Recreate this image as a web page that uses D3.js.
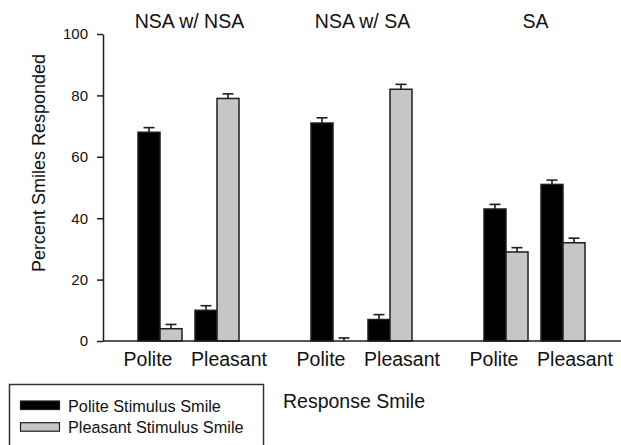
<!DOCTYPE html>
<html>
<head>
<meta charset="utf-8">
<script src="https://cdn.jsdelivr.net/npm/d3@7"></script>
<style>
  html, body { margin: 0; padding: 0; background: #ffffff; }
  svg { display: block; font-family: "Liberation Sans", Arial, sans-serif; }
</style>
</head>
<body>
<svg id="chart" width="621" height="445"></svg>
<script>
// Conditions, response types and stimulus series
const groups = ["NSA w/ NSA", "NSA w/ SA", "SA"];
const responses = ["Polite", "Pleasant"];
const series = ["Polite Stimulus Smile", "Pleasant Stimulus Smile"];

// Percent of smiles responded, ordered group by group: Polite, Pleasant response
const politeStimulus    = [68, 10, 71, 7, 43, 51];
const politeStimulusErr = [1.5, 1.5, 1.7, 1.6, 1.5, 1.4];
const pleasantStimulus    = [4, 79, 0, 82, 29, 32];
const pleasantStimulusErr = [1.4, 1.5, 1.0, 1.6, 1.4, 1.5];

const yTicks = [0, 20, 40, 60, 80, 100];

const svg = d3.select("#chart");
const ink = "#1e1e1e";

const y = d3.scaleLinear().domain([0, 100]).range([341, 34]);
const x0 = d3.scaleBand().domain(groups).range([103, 622]);
const x1 = d3.scalePoint().domain(responses).range([57, 114]);
const x2 = d3.scaleBand().domain(series).range([-22, 22]);

// Flatten data into records
const records = [];
groups.forEach((g, gi) => {
  responses.forEach((r, ri) => {
    const i = gi * responses.length + ri;
    records.push({ g, r, s: series[0], v: politeStimulus[i], e: politeStimulusErr[i] });
    records.push({ g, r, s: series[1], v: pleasantStimulus[i], e: pleasantStimulusErr[i] });
  });
});

const fill = d3.scaleOrdinal().domain(series).range(["#000000", "#c6c6c6"]);
const cx = d => x0(d.g) + x1(d.r);

// Bars
svg.append("g").selectAll("rect").data(records).join("rect")
  .attr("x", d => cx(d) + x2(d.s))
  .attr("y", d => y(d.v))
  .attr("width", x2.bandwidth())
  .attr("height", d => y(0) - y(d.v))
  .attr("fill", d => fill(d.s))
  .attr("stroke", ink)
  .attr("stroke-width", 1.5);

// Error bars (upper only)
const eb = svg.append("g").attr("stroke", ink).attr("stroke-width", 1.6);
eb.selectAll("line.v").data(records).join("line").attr("class", "v")
  .attr("x1", d => cx(d) + x2(d.s) + x2.bandwidth() / 2)
  .attr("x2", d => cx(d) + x2(d.s) + x2.bandwidth() / 2)
  .attr("y1", d => y(d.v))
  .attr("y2", d => y(d.v + d.e));
eb.selectAll("line.c").data(records).join("line").attr("class", "c")
  .attr("x1", d => cx(d) + x2(d.s) + x2.bandwidth() / 2 - 5.5)
  .attr("x2", d => cx(d) + x2(d.s) + x2.bandwidth() / 2 + 5.5)
  .attr("y1", d => y(d.v + d.e))
  .attr("y2", d => y(d.v + d.e));

// Y axis
const yAxis = svg.append("g")
  .attr("transform", "translate(103,0)")
  .call(d3.axisLeft(y).tickValues(yTicks).tickSize(6).tickSizeOuter(0).tickPadding(9));
yAxis.selectAll("path, line").attr("stroke", ink).attr("stroke-width", 1.5);
yAxis.selectAll("text").attr("font-size", 15).attr("fill", "#111")
  .attr("font-family", "Liberation Sans, Arial, sans-serif");

// Baseline
svg.append("line")
  .attr("x1", 103).attr("x2", 621)
  .attr("y1", y(0)).attr("y2", y(0))
  .attr("stroke", ink).attr("stroke-width", 1.5);

// Y axis title
svg.append("text")
  .attr("transform", `translate(45,${y(58)}) rotate(-90)`)
  .attr("text-anchor", "middle")
  .attr("font-size", 18)
  .attr("fill", "#111")
  .text("Percent Smiles Responded");

// Group titles
svg.append("g").selectAll("text").data(groups).join("text")
  .attr("x", d => x0(d) + x0.bandwidth() / 2)
  .attr("y", 28)
  .attr("text-anchor", "middle")
  .attr("font-size", 19.5)
  .attr("fill", "#111")
  .text(d => d);

// Response category labels
const labelShift = { Polite: -12, Pleasant: 12 };
const catLabels = [];
groups.forEach(g => responses.forEach(r => catLabels.push({ g, r })));
svg.append("g").selectAll("text").data(catLabels).join("text")
  .attr("x", d => x0(d.g) + x1(d.r) + labelShift[d.r])
  .attr("y", 366)
  .attr("text-anchor", "middle")
  .attr("font-size", 19.5)
  .attr("fill", "#111")
  .text(d => d.r);

// X axis title
svg.append("text")
  .attr("x", 283)
  .attr("y", 408)
  .attr("font-size", 19.5)
  .attr("fill", "#111")
  .text("Response Smile");

// Legend
const legend = svg.append("g");
legend.append("rect")
  .attr("x", 9.5).attr("y", 384.5)
  .attr("width", 254).attr("height", 80)
  .attr("fill", "none")
  .attr("stroke", "#333").attr("stroke-width", 1.5);
const li = legend.selectAll("g.item").data(series).join("g").attr("class", "item")
  .attr("transform", (d, i) => `translate(0,${i * 21.7})`);
li.append("rect")
  .attr("x", 20.5).attr("y", 401)
  .attr("width", 39).attr("height", 8.5)
  .attr("fill", d => fill(d))
  .attr("stroke", ink).attr("stroke-width", 1.2);
li.append("text")
  .attr("x", 68).attr("y", 411.5)
  .attr("font-size", 16.3)
  .attr("fill", "#111")
  .text(d => d);
</script>
</body>
</html>
